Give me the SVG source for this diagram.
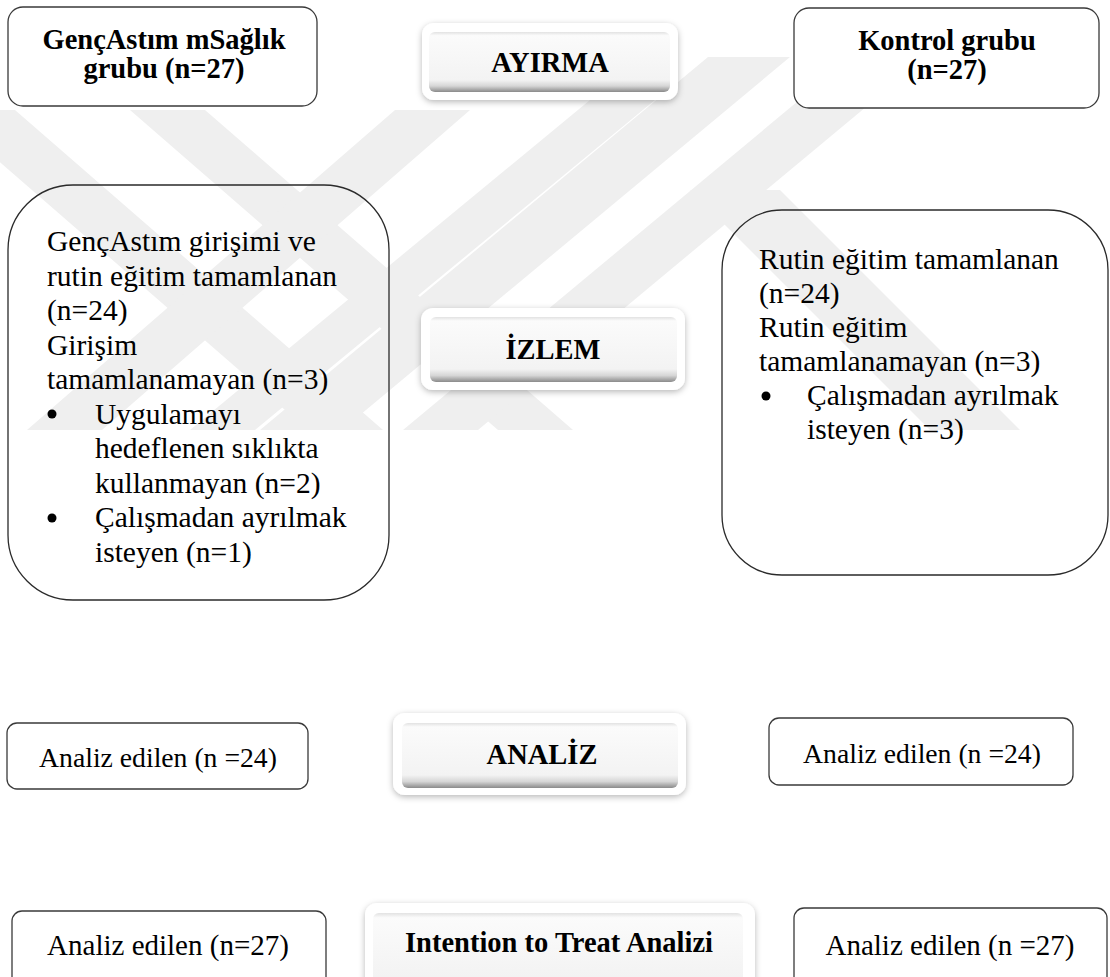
<svg xmlns="http://www.w3.org/2000/svg" width="1110" height="977" viewBox="0 0 1110 977">
  <defs>
    <style>
      .box { fill: #ffffff; stroke: #3a3a3a; stroke-width: 1.3; }
      .big { fill: none; stroke: #2a2a2a; stroke-width: 1.3; }
      .hdr { font-family: "Liberation Serif", "Times New Roman", serif; font-weight: bold; font-size: 28.5px; fill: #000; text-anchor: middle; }
      .body { font-family: "Liberation Serif", "Times New Roman", serif; font-size: 29.5px; fill: #000; }
      .row { font-family: "Liberation Serif", "Times New Roman", serif; font-size: 27.7px; fill: #000; text-anchor: middle; }
      .row2 { font-family: "Liberation Serif", "Times New Roman", serif; font-size: 29px; fill: #000; text-anchor: middle; }
      .wm { fill: #efefef; }
      .plate { fill: #ffffff; filter: url(#glow); }
      .key { fill: url(#keyFill); }
    </style>
    <filter id="glow" x="-10%" y="-30%" width="120%" height="160%">
      <feGaussianBlur in="SourceAlpha" stdDeviation="3"/>
      <feOffset dx="0" dy="2" result="b"/>
      <feFlood flood-color="#000" flood-opacity="0.28"/>
      <feComposite in2="b" operator="in"/>
      <feMerge><feMergeNode/><feMergeNode in="SourceGraphic"/></feMerge>
    </filter>
    <linearGradient id="keyFill" x1="0" y1="0" x2="0" y2="1">
      <stop offset="0" stop-color="#e2e2e2"/>
      <stop offset="0.06" stop-color="#fbfbfb"/>
      <stop offset="0.8" stop-color="#f3f3f3"/>
      <stop offset="0.9" stop-color="#d6d6d6"/>
      <stop offset="1" stop-color="#8a8a8a"/>
    </linearGradient>
  </defs>

  <rect width="1110" height="977" fill="#ffffff"/>

  <!-- faint background emblem: striped chevrons -->
  <g id="watermark">
    <polygon class="wm" points="-60,110 15,110 383,430 308,430"/>
    <polygon class="wm" points="130,110 205,110 573,430 498,430"/>
    <polygon class="wm" points="395,110 470,110 102,430 27,430"/>
    <polygon class="wm" points="590,100 655,100 255,430 190,430"/>
    <polygon class="wm" points="851,57 926,57 478,430 403,430"/>
    <polygon class="wm" points="708,57 790,57 342,430 260,430"/>
    <polygon class="wm" points="690,190 780,190 1020,430 930,430"/>
  </g>

  <g id="connectors"></g>

  <g id="n-intervention">
    <rect class="box" x="8" y="7" width="309" height="99" rx="15"/>
    <text class="hdr" x="164" y="49">GençAstım mSağlık</text>
    <text class="hdr" x="164" y="78">grubu (n=27)</text>
  </g>

  <g id="n-ayirma">
    <rect class="plate" x="422" y="23" width="256" height="77" rx="12"/>
    <rect class="key" x="429" y="32" width="241" height="60" rx="6"/>
    <text class="hdr" x="550" y="72">AYIRMA</text>
  </g>

  <g id="n-control">
    <rect class="box" x="794" y="8" width="305" height="100" rx="15"/>
    <text class="hdr" x="947" y="50">Kontrol grubu</text>
    <text class="hdr" x="947" y="79">(n=27)</text>
  </g>

  <g id="n-follow-left">
    <rect class="big" x="8" y="185" width="381" height="415" rx="65"/>
    <text class="body">
      <tspan x="47" y="251">GençAstım girişimi ve</tspan>
      <tspan x="47" y="285.5">rutin eğitim tamamlanan</tspan>
      <tspan x="47" y="320">(n=24)</tspan>
      <tspan x="47" y="354.5">Girişim</tspan>
      <tspan x="47" y="389">tamamlanamayan (n=3)</tspan>
      <tspan x="95" y="423.5">Uygulamayı</tspan>
      <tspan x="95" y="458">hedeflenen sıklıkta</tspan>
      <tspan x="95" y="492.5">kullanmayan (n=2)</tspan>
      <tspan x="95" y="527">Çalışmadan ayrılmak</tspan>
      <tspan x="95" y="561.5">isteyen (n=1)</tspan>
    </text>
    <circle cx="52" cy="414" r="4.5"/>
    <circle cx="52" cy="518" r="4.5"/>
  </g>

  <g id="n-izlem">
    <rect class="plate" x="421" y="308" width="264" height="82" rx="12"/>
    <rect class="key" x="430" y="317" width="247" height="65" rx="6"/>
    <text class="hdr" x="553" y="359">İZLEM</text>
  </g>

  <g id="n-follow-right">
    <rect class="big" x="722" y="210" width="386" height="365" rx="60"/>
    <text class="body">
      <tspan x="759" y="269">Rutin eğitim tamamlanan</tspan>
      <tspan x="759" y="303">(n=24)</tspan>
      <tspan x="759" y="337">Rutin eğitim</tspan>
      <tspan x="759" y="371">tamamlanamayan (n=3)</tspan>
      <tspan x="807" y="405">Çalışmadan ayrılmak</tspan>
      <tspan x="807" y="439">isteyen (n=3)</tspan>
    </text>
    <circle cx="766" cy="396" r="4.5"/>
  </g>

  <g id="n-analysis-left">
    <rect class="box" x="7" y="723" width="301" height="66" rx="10"/>
    <text class="row" x="158" y="767">Analiz edilen (n =24)</text>
  </g>

  <g id="n-analiz">
    <rect class="plate" x="393" y="713" width="293" height="82" rx="12"/>
    <rect class="key" x="402" y="723" width="276" height="65" rx="6"/>
    <text class="hdr" x="542" y="764">ANALİZ</text>
  </g>

  <g id="n-analysis-right">
    <rect class="box" x="769" y="718" width="304" height="67" rx="10"/>
    <text class="row" x="922" y="763">Analiz edilen (n =24)</text>
  </g>

  <g id="n-itt-left">
    <rect class="box" x="12" y="911" width="314" height="76" rx="10"/>
    <text class="row2" x="168" y="955">Analiz edilen (n=27)</text>
  </g>

  <g id="n-itt">
    <rect class="plate" x="365" y="903" width="390" height="90" rx="12"/>
    <rect class="key" x="373" y="913" width="370" height="80" rx="6"/>
    <text class="hdr" x="559" y="952">Intention to Treat Analizi</text>
  </g>

  <g id="n-itt-right">
    <rect class="box" x="794" y="908" width="313" height="79" rx="10"/>
    <text class="row2" x="950" y="955">Analiz edilen (n =27)</text>
  </g>
</svg>
